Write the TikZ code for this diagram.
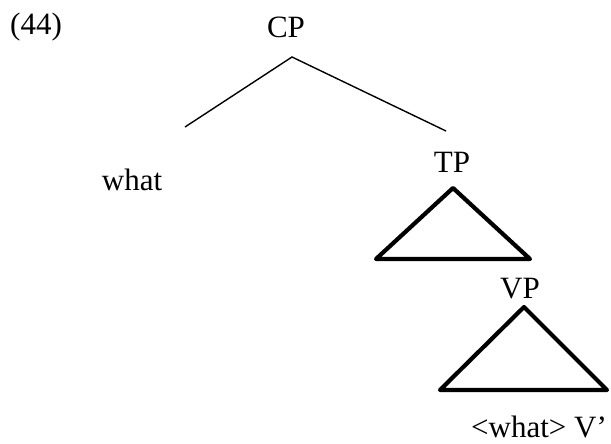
\documentclass[tikz,border=0pt]{standalone}
\usepackage{fontspec}
\setmainfont{Liberation Serif}
\begin{document}
\begin{tikzpicture}[x=1pt,y=-1pt,
  lbl/.style={inner sep=0pt,anchor=base,font=\fontsize{31}{37}\selectfont},
  branch/.style={line width=1.4pt},
  tri/.style={line width=4.2pt,line join=round}]
\useasboundingbox (0,0) rectangle (611,444);
\node[lbl,anchor=base west] (ex) at (10,35) {(44)};
\node[lbl] (cp) at (286,38) {CP};
\node[lbl] (what) at (132,190) {what};
\node[lbl] (tp) at (452,172) {TP};
\node[lbl] (vp) at (520,298) {VP};
\node[lbl] (vbar) at (539,437) {<what> V’};
\coordinate (cptop) at (292,57);
\coordinate (cpl) at (185,127);
\coordinate (cpr) at (446,131);
\draw[branch] (cpl) -- (cptop) -- (cpr);
\coordinate (ta) at (453,188);
\coordinate (tl) at (376,259);
\coordinate (tr) at (530,259);
\draw[tri] (ta) -- (tl) -- (tr) -- cycle;
\coordinate (va) at (524,307);
\coordinate (vl) at (440,390);
\coordinate (vr) at (607,390);
\draw[tri] (va) -- (vl) -- (vr) -- cycle;
\end{tikzpicture}
\end{document}
